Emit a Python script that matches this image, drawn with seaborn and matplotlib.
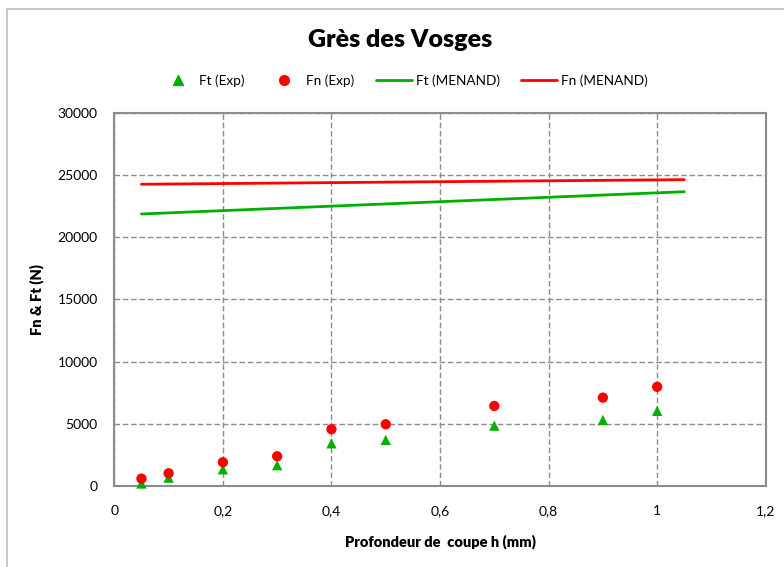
import matplotlib
matplotlib.use("Agg")
import matplotlib.pyplot as plt
from matplotlib.lines import Line2D
from matplotlib.patches import Rectangle
from matplotlib.ticker import FuncFormatter, MultipleLocator
import seaborn as sns
import pandas as pd

# Cutting depth h (mm) and measured forces (N)
depth_mm = [0.05, 0.1, 0.2, 0.3, 0.4, 0.5, 0.7, 0.9, 1.0]
ft_exp = [200, 670, 1340, 1670, 3430, 3700, 4850, 5300, 6040]
fn_exp = [590, 1020, 1910, 2390, 4560, 4960, 6430, 7100, 7970]

# MENAND model predictions
model_depth_mm = [0.05, 0.45, 1.05]
ft_menand = [21860, 22580, 23650]
fn_menand = [24250, 24400, 24620]

GREEN = "#00B000"
RED = "#FF0000"

sns.set_theme(style="white")
plt.rcParams["font.family"] = ["Lato", "DejaVu Sans"]
plt.rcParams["text.color"] = "black"
plt.rcParams["axes.labelcolor"] = "black"

fig = plt.figure(figsize=(7.84, 5.67), dpi=100)
ax = fig.add_axes([0.1458, 0.1429, 0.9767 - 0.1458, 0.8012 - 0.1429])

exp_df = pd.DataFrame({"h": depth_mm, "Ft": ft_exp, "Fn": fn_exp})
mod_df = pd.DataFrame({"h": model_depth_mm, "Ft": ft_menand, "Fn": fn_menand})

sns.lineplot(data=mod_df, x="h", y="Ft", color=GREEN, linewidth=2.0, ax=ax, zorder=3)
sns.lineplot(data=mod_df, x="h", y="Fn", color=RED, linewidth=2.0, ax=ax, zorder=3)
sns.scatterplot(data=exp_df, x="h", y="Ft", marker="^", color=GREEN, s=55,
                edgecolor="none", ax=ax, zorder=4, clip_on=False)
sns.scatterplot(data=exp_df, x="h", y="Fn", marker="o", color=RED, s=55,
                edgecolor="none", ax=ax, zorder=4, clip_on=False)

ax.set_xlim(0, 1.2)
ax.set_ylim(0, 30000)
ax.xaxis.set_major_locator(MultipleLocator(0.2))
ax.yaxis.set_major_locator(MultipleLocator(5000))
ax.xaxis.set_major_formatter(FuncFormatter(lambda v, p: f"{v:.1f}".rstrip("0").rstrip(".").replace(".", ",")))
ax.yaxis.set_major_formatter(FuncFormatter(lambda v, p: f"{int(round(v))}"))
ax.tick_params(axis="both", length=0, labelsize=10, colors="#000000")
ax.tick_params(axis="x", pad=14)
ax.tick_params(axis="y", pad=12)

ax.grid(True, linestyle=(0, (4, 2)), color="#8C8C8C", linewidth=1.0)
ax.set_axisbelow(True)
for s in ax.spines.values():
    s.set_color("#8C8C8C")
    s.set_linewidth(1.5)

ax.set_xlabel("Profondeur de  coupe h (mm)", fontsize=10.5, fontweight="heavy",
              labelpad=12, color="black")
ax.set_ylabel("Fn & Ft (N)", fontsize=10.5, fontweight="heavy", labelpad=10, color="black")

fig.text(0.510, 0.930, "Grès des Vosges", ha="center", va="center",
         fontsize=18, fontweight="heavy", color="black")

handles = [
    Line2D([], [], marker="^", color=GREEN, linestyle="none", markersize=7),
    Line2D([], [], marker="o", color=RED, linestyle="none", markersize=7),
    Line2D([], [], color=GREEN, linewidth=2.0),
    Line2D([], [], color=RED, linewidth=2.0),
]
labels = ["Ft (Exp)", "Fn (Exp)", "Ft (MENAND)", "Fn (MENAND)"]
fig.legend(handles, labels, loc="center", bbox_to_anchor=(0.515, 0.858), ncol=4,
           frameon=False, fontsize=9.8, handlelength=2.6, handletextpad=0.3,
           columnspacing=1.6, labelcolor="black")

# chart frame
fig.patches.append(Rectangle((7 / 784, -0.1), 1.2, 1.1 - 9 / 567, transform=fig.transFigure,
                             fill=False, edgecolor="#BFBFBF", linewidth=1.2))

fig.savefig("out.png", dpi=100)
